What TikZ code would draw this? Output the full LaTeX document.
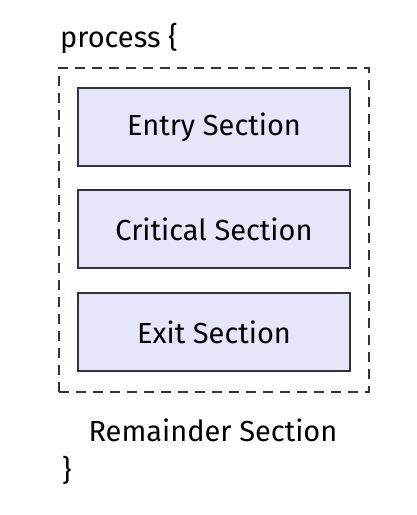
\documentclass[tikz,border=0pt]{standalone}
\usepackage{fontspec}
\setmainfont{Fira Sans}
\definecolor{boxfill}{HTML}{E6E6FA}
\definecolor{boxline}{HTML}{2E3440}
\begin{document}
\begin{tikzpicture}[x=1pt,y=-1pt,
  section/.style={draw=boxline,fill=boxfill,line width=1.6pt,minimum width=272pt,minimum height=78pt,inner sep=0pt,font=\fontsize{29}{34}\selectfont},
  label/.style={inner sep=0pt,font=\fontsize{29}{34}\selectfont}]
\useasboundingbox (0,0) rectangle (416,515);
\node[draw=boxline,dashed,dash pattern=on 10pt off 7pt,line width=1.6pt,minimum width=310pt,minimum height=324pt,inner sep=0pt] (frame) at (214,230) {};
\node[section] (entry) at (214,127) {Entry Section};
\node[section] (crit) at (214,229) {Critical Section};
\node[section] (exit) at (214,332) {Exit Section};
\node[label,anchor=west] (proc) at (60,38) {process \{};
\node[label] (rem) at (213,430) {Remainder Section};
\node[label,anchor=west] (close) at (62,470) {\}};
\end{tikzpicture}
\end{document}
